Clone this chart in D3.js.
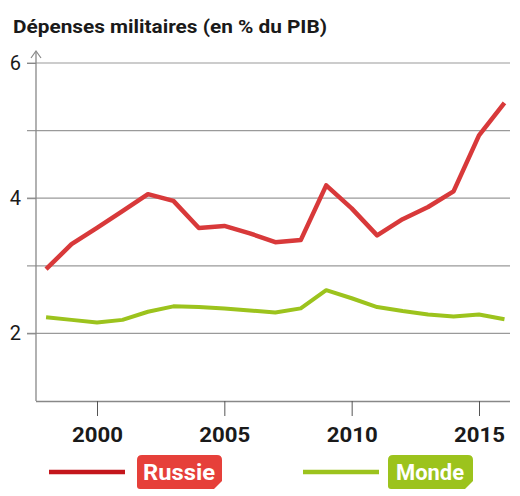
<!DOCTYPE html>
<html>
<head>
<meta charset="utf-8">
<script src="https://cdn.jsdelivr.net/npm/d3@7"></script>
<style>
  body { margin: 0; background: #fff; }
  text { font-family: Roboto, "Liberation Sans", sans-serif; }
</style>
</head>
<body>
<div id="chart"></div>
<script>
// data
var years = [1998, 1999, 2000, 2001, 2002, 2003, 2004, 2005, 2006, 2007, 2008,
             2009, 2010, 2011, 2012, 2013, 2014, 2015, 2016];
var russie = [2.95, 3.32, 3.56, 3.81, 4.06, 3.96, 3.56, 3.59, 3.48, 3.35, 3.38,
              4.19, 3.85, 3.45, 3.69, 3.87, 4.10, 4.93, 5.41];
var monde = [2.24, 2.20, 2.16, 2.20, 2.32, 2.40, 2.39, 2.37, 2.34, 2.31, 2.37,
             2.64, 2.52, 2.39, 2.33, 2.28, 2.25, 2.28, 2.21];
var yTicks = [2, 4, 6];
var yGrid = [2, 3, 4, 5, 6];
var xTicks = [2000, 2005, 2010, 2015];
var seriesNames = ["Russie", "Monde"];

var svgWidth = 520, svgHeight = 496;

var svg = d3.select("#chart")
  .append("svg")
  .attr("width", svgWidth)
  .attr("height", svgHeight);

// scales
var x = d3.scaleLinear().domain([2000, 2015]).range([97, 479]);
var y = d3.scaleLinear().domain([1, 6]).range([401, 63]);

// title
svg.append("text")
  .attr("x", 13)
  .attr("y", 33)
  .attr("font-size", 19)
  .attr("font-weight", "bold")
  .attr("fill", "#1a1a1a")
  .attr("textLength", 314)
  .attr("lengthAdjust", "spacingAndGlyphs")
  .text("Dépenses militaires (en % du PIB)");

// gridlines
svg.append("g").selectAll("line")
  .data(yGrid)
  .enter()
  .append("line")
  .attr("x1", 27)
  .attr("x2", 510)
  .attr("y1", d => y(d))
  .attr("y2", d => y(d))
  .attr("stroke", "#9a9a9a")
  .attr("stroke-width", 1.2);

// y axis
var leftAxis = d3.axisLeft(y).tickValues(yTicks).tickFormat(d3.format("d"))
  .tickSize(9).tickPadding(6);
var gy = svg.append("g")
  .attr("transform", "translate(36,0)")
  .call(leftAxis);
gy.select(".domain").remove();
gy.selectAll("line").attr("stroke", "#888");
gy.selectAll("text")
  .attr("font-size", 20)
  .attr("fill", "#1a1a1a");

svg.append("line")
  .attr("x1", 36).attr("x2", 36)
  .attr("y1", 401).attr("y2", 52)
  .attr("stroke", "#888").attr("stroke-width", 1.3);
svg.append("path")
  .attr("d", "M31,58 L36,51 L41,58")
  .attr("fill", "none")
  .attr("stroke", "#888")
  .attr("stroke-width", 1.2);

// x axis
var bottomAxis = d3.axisBottom(x).tickValues(xTicks).tickFormat(d3.format("d"))
  .tickSize(15).tickSizeOuter(0).tickPadding(12);
var gx = svg.append("g")
  .attr("transform", "translate(0,401)")
  .call(bottomAxis);
gx.select(".domain").attr("d", "M36,0.5H510").attr("stroke", "#888").attr("stroke-width", 1.3);
gx.selectAll("line").attr("stroke", "#555");
gx.selectAll("text")
  .attr("font-size", 20)
  .attr("font-weight", "bold")
  .attr("fill", "#1a1a1a")
  .attr("textLength", 51)
  .attr("lengthAdjust", "spacingAndGlyphs");

// lines
var line = d3.line()
  .x((d, i) => x(years[i]))
  .y(d => y(d));

svg.append("path")
  .datum(monde)
  .attr("d", line)
  .attr("fill", "none")
  .attr("stroke", "#9cc31d")
  .attr("stroke-width", 4)
  .attr("stroke-linejoin", "round");

svg.append("path")
  .datum(russie)
  .attr("d", line)
  .attr("fill", "none")
  .attr("stroke", "#d8393a")
  .attr("stroke-width", 4.5)
  .attr("stroke-linejoin", "round");

// legend
var legend = [
  { name: seriesNames[0], line: "#c4161c", box: "#e6403a", lx: 49, bx: 137, tw: 72 },
  { name: seriesNames[1], line: "#9cc31d", box: "#9cc31d", lx: 303, bx: 388, tw: 68 }
];
var lg = svg.append("g").selectAll("g")
  .data(legend)
  .enter()
  .append("g");

lg.append("line")
  .attr("x1", d => d.lx)
  .attr("x2", d => d.lx + 76)
  .attr("y1", 472).attr("y2", 472)
  .attr("stroke", d => d.line)
  .attr("stroke-width", 4.5);

lg.append("path")
  .attr("d", d => {
    var x0 = d.bx, x1 = d.bx + 85, y0 = 455, y1 = 489;
    return "M" + (x0 + 5) + "," + y0 + "H" + (x1 - 5) + "Q" + x1 + "," + y0 + " " + x1 + "," + (y0 + 5) +
      "V" + (y1 - 8) + "L" + (x1 - 8) + "," + y1 + "H" + (x0 + 3) + "Q" + x0 + "," + y1 + " " + x0 + "," + (y1 - 3) +
      "V" + (y0 + 5) + "Q" + x0 + "," + y0 + " " + (x0 + 5) + "," + y0 + "Z";
  })
  .attr("fill", d => d.box);

lg.append("text")
  .attr("x", d => d.bx + 42)
  .attr("y", 480)
  .attr("text-anchor", "middle")
  .attr("font-size", 22)
  .attr("font-weight", "bold")
  .attr("fill", "#fff")
  .attr("textLength", d => d.tw)
  .attr("lengthAdjust", "spacingAndGlyphs")
  .text(d => d.name);
</script>
</body>
</html>
